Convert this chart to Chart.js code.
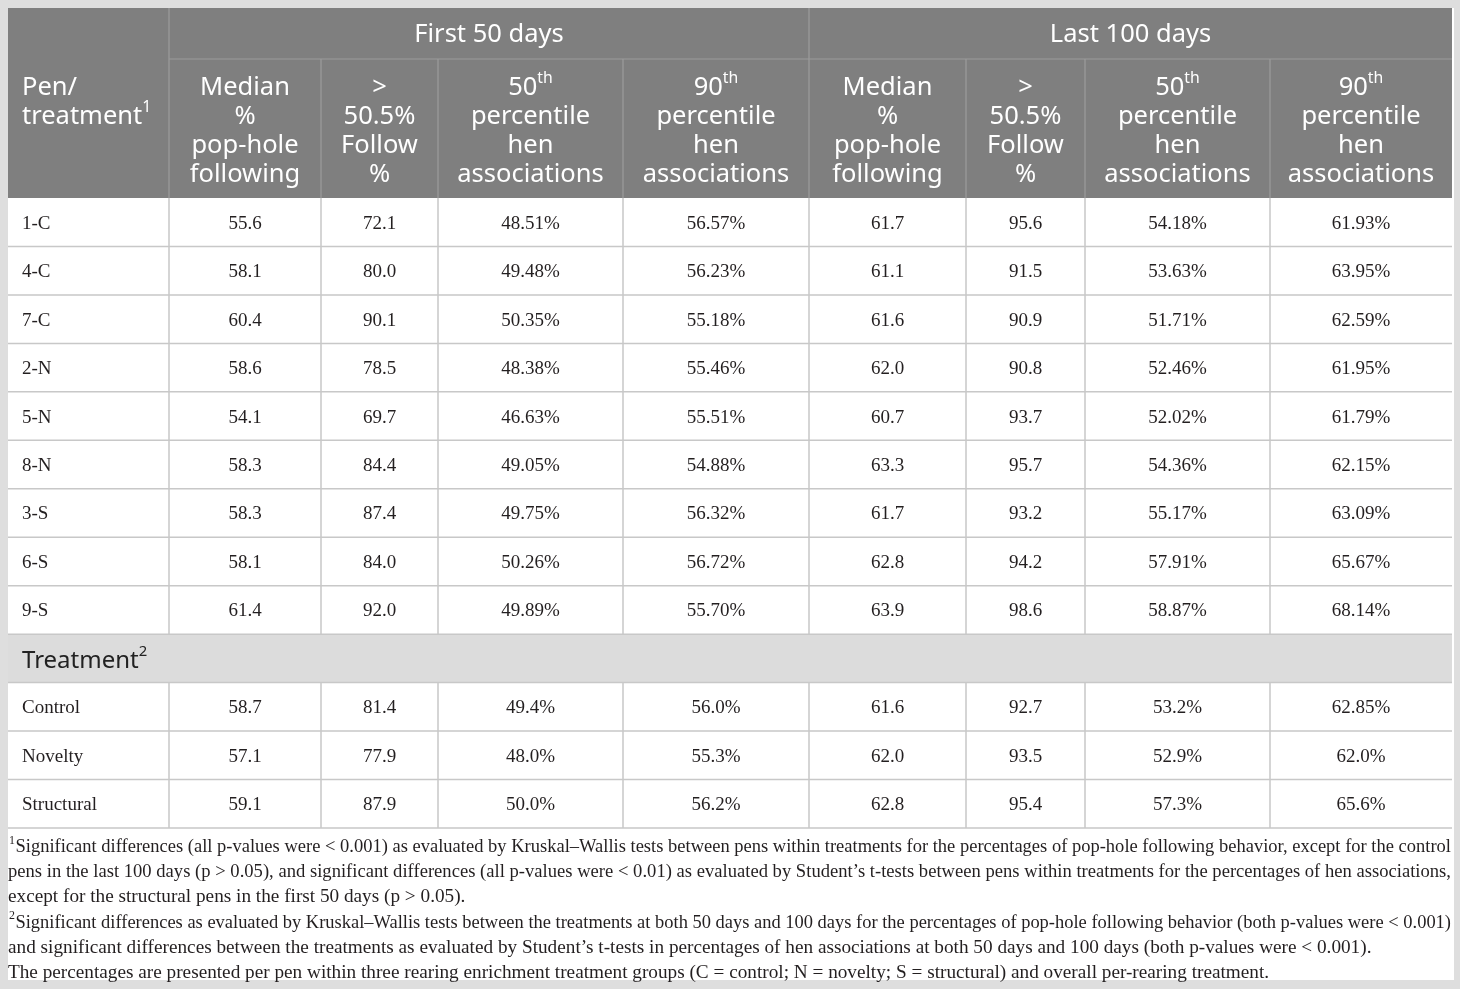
<!DOCTYPE html>
<html><head><meta charset="utf-8">
<script src="https://cdn.jsdelivr.net/npm/chart.js@4.4.1/dist/chart.umd.min.js"></script>
<style>html,body{margin:0;padding:0;background:#dedede;overflow:hidden}#wrap{width:1460px;height:989px;position:relative}</style>
</head><body><div id="wrap"><canvas id="c"></canvas></div>
<script>
// ---------- data ----------
const periods = ['First 50 days', 'Last 100 days'];
const pens = ['1-C', '4-C', '7-C', '2-N', '5-N', '8-N', '3-S', '6-S', '9-S'];
const groups = ['Control', 'Novelty', 'Structural'];
const groupTitle = 'Treatment';
const medFirst    = [55.6, 58.1, 60.4, 58.6, 54.1, 58.3, 58.3, 58.1, 61.4];
const followFirst = [72.1, 80.0, 90.1, 78.5, 69.7, 84.4, 87.4, 84.0, 92.0];
const p50First    = [48.51, 49.48, 50.35, 48.38, 46.63, 49.05, 49.75, 50.26, 49.89];
const p90First    = [56.57, 56.23, 55.18, 55.46, 55.51, 54.88, 56.32, 56.72, 55.70];
const medLast     = [61.7, 61.1, 61.6, 62.0, 60.7, 63.3, 61.7, 62.8, 63.9];
const followLast  = [95.6, 91.5, 90.9, 90.8, 93.7, 95.7, 93.2, 94.2, 98.6];
const p50Last     = [54.18, 53.63, 51.71, 52.46, 52.02, 54.36, 55.17, 57.91, 58.87];
const p90Last     = [61.93, 63.95, 62.59, 61.95, 61.79, 62.15, 63.09, 65.67, 68.14];
const medFirstG    = [58.7, 57.1, 59.1];
const followFirstG = [81.4, 77.9, 87.9];
const p50FirstG    = [49.4, 48.0, 50.0];
const p90FirstG    = [56.0, 55.3, 56.2];
const medLastG     = [61.6, 62.0, 62.8];
const followLastG  = [92.7, 93.5, 95.4];
const p50LastG     = [53.2, 52.9, 57.3];
const p90LastG     = [62.85, 62.0, 65.6];
const p90LastGDecimals = [2, 1, 1];
const firstHead = ['Pen/', 'treatment'];
const colHeads = [
  ['Median', '%', 'pop-hole', 'following'],
  ['>', '50.5%', 'Follow', '%'],
  ['50|th', 'percentile', 'hen', 'associations'],
  ['90|th', 'percentile', 'hen', 'associations']
];
const footnotes = [
  {sup: '1', text: 'Significant differences (all p-values were < 0.001) as evaluated by Kruskal\u2013Wallis tests between pens within treatments for the percentages of pop-hole following behavior, except for the control', justify: true},
  {sup: '', text: 'pens in the last 100 days (p > 0.05), and significant differences (all p-values were < 0.01) as evaluated by Student\u2019s t-tests between pens within treatments for the percentages of hen associations,', justify: true},
  {sup: '', text: 'except for the structural pens in the first 50 days (p > 0.05).', justify: false},
  {sup: '2', text: 'Significant differences as evaluated by Kruskal\u2013Wallis tests between the treatments at both 50 days and 100 days for the percentages of pop-hole following behavior (both p-values were < 0.001)', justify: true},
  {sup: '', text: 'and significant differences between the treatments as evaluated by Student\u2019s t-tests in percentages of hen associations at both 50 days and 100 days (both p-values were < 0.001).', justify: false},
  {sup: '', text: 'The percentages are presented per pen within three rearing enrichment treatment groups (C = control; N = novelty; S = structural) and overall per-rearing treatment.', justify: false}
];

// ---------- layout ----------
const colEdges = [8, 169, 321, 438, 623, 809, 966, 1085, 1270, 1452];
const tableTop = 8, head1Bottom = 59, head2Bottom = 198, rowH = 48.46;
const footTop = 847, footStep = 25.2, footRight = 1451, footRefWidth = 1262;
const whiteBottom = 980;
const SANS = '"Noto Sans", "Open Sans", sans-serif';
const SERIF = '"Liberation Serif", "Times New Roman", serif';

const pensCols = [
  [medFirst, 1, ''], [followFirst, 1, ''], [p50First, 2, '%'], [p90First, 2, '%'],
  [medLast, 1, ''], [followLast, 1, ''], [p50Last, 2, '%'], [p90Last, 2, '%']
];
const groupCols = [
  [medFirstG, [1,1,1], ''], [followFirstG, [1,1,1], ''], [p50FirstG, [1,1,1], '%'], [p90FirstG, [1,1,1], '%'],
  [medLastG, [1,1,1], ''], [followLastG, [1,1,1], ''], [p50LastG, [1,1,1], '%'], [p90LastG, p90LastGDecimals, '%']
];

function drawRich(ctx, parts, x, y, align, size, family, color) {
  let w = 0;
  parts.forEach(p => { ctx.font = (p.sup ? size * 0.62 : size) + 'px ' + family; p.w = ctx.measureText(p.t).width; w += p.w; });
  let cx = align === 'center' ? x - w / 2 : x;
  ctx.fillStyle = color; ctx.textAlign = 'left'; ctx.textBaseline = 'middle';
  parts.forEach(p => {
    ctx.font = (p.sup ? size * 0.62 : size) + 'px ' + family;
    ctx.fillText(p.t, cx, p.sup ? y - size * 0.36 : y);
    cx += p.w;
  });
}
function headParts(s) {
  const i = s.indexOf('|');
  return i < 0 ? [{t: s}] : [{t: s.slice(0, i)}, {t: s.slice(i + 1), sup: true}];
}

const tablePlugin = {
  id: 'tablePlugin',
  afterDraw(chart) {
    const ctx = chart.ctx;
    const X = v => chart.scales.x.getPixelForValue(v);
    const Y = v => chart.scales.y.getPixelForValue(v);
    const L = X(colEdges[0]), R = X(colEdges[colEdges.length - 1]);
    ctx.save();
    ctx.fillStyle = '#dedede'; ctx.fillRect(0, 0, chart.width, chart.height);
    ctx.fillStyle = '#ffffff'; ctx.fillRect(L, Y(tableTop), R - L + 2, Y(whiteBottom) - Y(tableTop));
    ctx.fillStyle = '#7f7f7f'; ctx.fillRect(L, Y(tableTop), R - L, Y(head2Bottom) - Y(tableTop));
    ctx.strokeStyle = '#9c9c9c'; ctx.lineWidth = 1.2;
    ctx.beginPath();
    ctx.moveTo(X(colEdges[1]), Y(head1Bottom)); ctx.lineTo(R, Y(head1Bottom));
    [1, 5].forEach(i => { ctx.moveTo(X(colEdges[i]), Y(tableTop)); ctx.lineTo(X(colEdges[i]), Y(head2Bottom)); });
    for (let i = 2; i < colEdges.length - 1; i++) { if (i === 5) continue; ctx.moveTo(X(colEdges[i]), Y(head1Bottom)); ctx.lineTo(X(colEdges[i]), Y(head2Bottom)); }
    ctx.stroke();
    const hs = 25.5;
    drawRich(ctx, [{t: periods[0]}], (X(colEdges[1]) + X(colEdges[5])) / 2, Y(34.5), 'center', hs, SANS, '#ffffff');
    drawRich(ctx, [{t: periods[1]}], (X(colEdges[5]) + X(colEdges[9])) / 2, Y(34.5), 'center', hs, SANS, '#ffffff');
    const hLine = [88, 117, 146, 175];
    drawRich(ctx, [{t: firstHead[0]}], X(22), Y(hLine[0]), 'left', hs, SANS, '#ffffff');
    drawRich(ctx, [{t: firstHead[1]}, {t: '1', sup: true}], X(22), Y(hLine[1]), 'left', hs, SANS, '#ffffff');
    for (let c = 0; c < 8; c++) {
      const cx = (X(colEdges[c + 1]) + X(colEdges[c + 2])) / 2;
      colHeads[c % 4].forEach((s, k) => drawRich(ctx, headParts(s), cx, Y(hLine[k]), 'center', hs, SANS, '#ffffff'));
    }
    const nRows = pens.length + 1 + groups.length;
    const rowTop = r => head2Bottom + r * rowH;
    const tRow = pens.length;
    ctx.fillStyle = '#dcdcdc';
    ctx.fillRect(L, Y(rowTop(tRow)), R - L, Y(rowTop(tRow + 1)) - Y(rowTop(tRow)));
    ctx.strokeStyle = '#c8c8c8'; ctx.lineWidth = 1.5;
    ctx.beginPath();
    for (let r = 1; r <= nRows; r++) { ctx.moveTo(L, Y(rowTop(r))); ctx.lineTo(R, Y(rowTop(r))); }
    for (let r = 0; r < nRows; r++) {
      if (r === tRow) continue;
      for (let i = 1; i < colEdges.length - 1; i++) { ctx.moveTo(X(colEdges[i]), Y(rowTop(r))); ctx.lineTo(X(colEdges[i]), Y(rowTop(r + 1))); }
    }
    ctx.stroke();
    const ds = 19, tc = '#231f20';
    pens.forEach((p, r) => {
      const cy = Y(rowTop(r) + rowH / 2 + 1.5);
      drawRich(ctx, [{t: p}], X(22), cy, 'left', ds, SERIF, tc);
      pensCols.forEach((col, c) => {
        const cx = (X(colEdges[c + 1]) + X(colEdges[c + 2])) / 2;
        drawRich(ctx, [{t: col[0][r].toFixed(col[1]) + col[2]}], cx, cy, 'center', ds, SERIF, tc);
      });
    });
    drawRich(ctx, [{t: groupTitle}, {t: '2', sup: true}], X(22), Y(rowTop(tRow) + rowH / 2 + 2.5), 'left', 24, SANS, '#222222');
    groups.forEach((g, k) => {
      const r = tRow + 1 + k;
      const cy = Y(rowTop(r) + rowH / 2 + 1.5);
      drawRich(ctx, [{t: g}], X(22), cy, 'left', ds, SERIF, tc);
      groupCols.forEach((col, c) => {
        const cx = (X(colEdges[c + 1]) + X(colEdges[c + 2])) / 2;
        drawRich(ctx, [{t: col[0][k].toFixed(col[1][k]) + col[2]}], cx, cy, 'center', ds, SERIF, tc);
      });
    });
    ctx.font = '18px ' + SERIF;
    const ref = ctx.measureText(footnotes[5].text).width;
    const fs = 18 * footRefWidth / ref;
    footnotes.forEach((f, i) => {
      const y = Y(footTop + i * footStep);
      let x = L;
      ctx.fillStyle = tc; ctx.textBaseline = 'middle'; ctx.textAlign = 'left';
      if (f.sup) {
        ctx.font = (fs * 0.62) + 'px ' + SERIF;
        ctx.fillText(f.sup, x + 1, y - fs * 0.33);
        x += ctx.measureText(f.sup).width + 1.5;
      }
      ctx.font = fs + 'px ' + SERIF;
      if (f.justify) {
        const target = X(footRight) - x;
        const natural = ctx.measureText(f.text).width;
        if (natural >= target) {
          ctx.save();
          ctx.translate(x, y);
          ctx.scale(target / natural, 1);
          ctx.fillText(f.text, 0, 0);
          ctx.restore();
        } else {
          const words = f.text.split(' ');
          const ws = words.map(w => ctx.measureText(w).width);
          const tot = ws.reduce((a, b) => a + b, 0);
          const gap = (target - tot) / (words.length - 1);
          words.forEach((w, k) => { ctx.fillText(w, x, y); x += ws[k] + gap; });
        }
      } else {
        ctx.fillText(f.text, x, y);
      }
    });
    ctx.restore();
  }
};

new Chart(document.getElementById('c'), {
  type: 'scatter',
  data: {datasets: [{data: [], pointRadius: 0}]},
  options: {
    responsive: true, maintainAspectRatio: false, animation: false, events: [],
    layout: {padding: 0},
    plugins: {legend: {display: false}, tooltip: {enabled: false}},
    scales: {
      x: {type: 'linear', min: 0, max: 1460, display: false},
      y: {type: 'linear', min: 0, max: 989, reverse: true, display: false}
    }
  },
  plugins: [tablePlugin]
});
</script></body></html>
